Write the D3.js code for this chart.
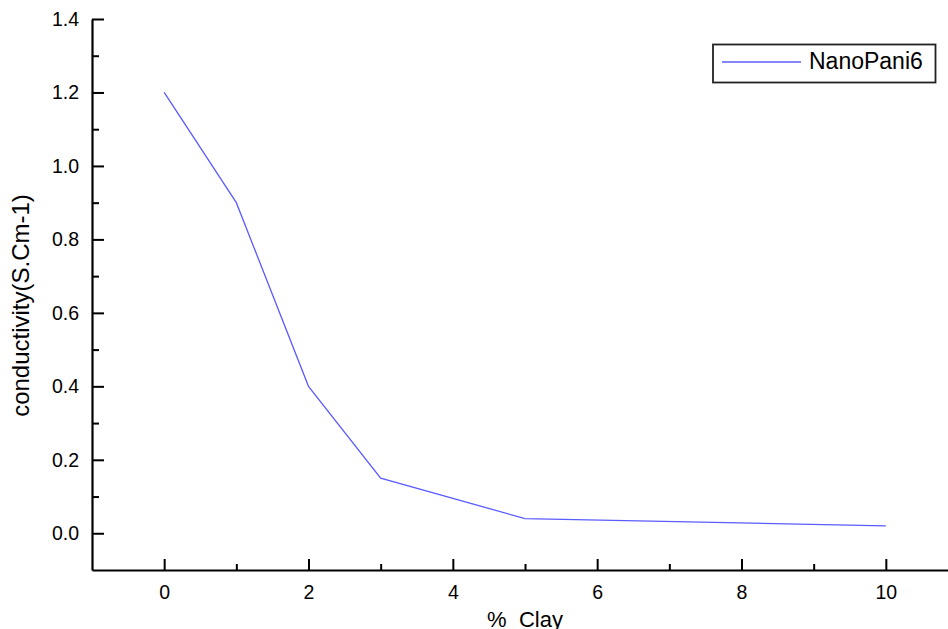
<!DOCTYPE html>
<html>
<head>
<meta charset="utf-8">
<script src="https://cdn.jsdelivr.net/npm/d3@7"></script>
<style>
  html, body { margin: 0; padding: 0; background: #fff; }
  svg { display: block; }
  text { font-family: "Liberation Sans", Arial, Helvetica, sans-serif; fill: #000; }
</style>
</head>
<body>
<svg id="chart" width="948" height="629"></svg>
<script>
// Conductivity of NanoPani6 versus clay loading
const clayPercent = [0, 1, 2, 3, 5, 10];
const conductivity = [1.2, 0.9, 0.4, 0.15, 0.04, 0.02];
const seriesName = "NanoPani6";

const xMajorTicks = [0, 2, 4, 6, 8, 10];
const xMinorTicks = [1, 3, 5, 7, 9];
const yMajorTicks = [0.0, 0.2, 0.4, 0.6, 0.8, 1.0, 1.2, 1.4];
const yMinorTicks = [0.1, 0.3, 0.5, 0.7, 0.9, 1.1, 1.3];

const svg = d3.select("#chart");

const plotLeft = 92, plotRight = 958, plotTop = 19, plotBottom = 570;

const x = d3.scaleLinear().domain([-1, 11]).range([plotLeft, plotRight]);
const y = d3.scaleLinear().domain([-0.1, 1.4]).range([plotBottom, plotTop]);

const lineColor = "#5b5bff";

// minor ticks (inward, no labels)
svg.append("g")
  .attr("transform", `translate(0,${plotBottom})`)
  .call(d3.axisBottom(x).tickValues(xMinorTicks).tickSize(-6).tickSizeOuter(0).tickFormat(""))
  .call(g => g.select(".domain").remove())
  .call(g => g.selectAll(".tick line").attr("stroke", "#000").attr("stroke-width", 2));

svg.append("g")
  .attr("transform", `translate(${plotLeft},0)`)
  .call(d3.axisLeft(y).tickValues(yMinorTicks).tickSize(-7).tickSizeOuter(0).tickFormat(""))
  .call(g => g.select(".domain").remove())
  .call(g => g.selectAll(".tick line").attr("stroke", "#000").attr("stroke-width", 2));

// major axes
const xAxis = svg.append("g")
  .attr("transform", `translate(0,${plotBottom})`)
  .call(d3.axisBottom(x).tickValues(xMajorTicks).tickSize(-11).tickSizeOuter(0).tickPadding(15).tickFormat(d3.format("d")));

const yAxis = svg.append("g")
  .attr("transform", `translate(${plotLeft},0)`)
  .call(d3.axisLeft(y).tickValues(yMajorTicks).tickSize(-12).tickSizeOuter(0).tickPadding(13).tickFormat(d3.format(".1f")));

[xAxis, yAxis].forEach(g => {
  g.select(".domain").attr("stroke", "#000").attr("stroke-width", 2.2);
  g.selectAll(".tick line").attr("stroke", "#000").attr("stroke-width", 2);
  g.selectAll(".tick text")
    .attr("font-family", "\"Liberation Sans\", Arial, sans-serif")
    .attr("font-size", "19.5px")
    .attr("fill", "#000");
});

// axis titles
svg.append("text")
  .attr("x", (plotLeft + plotRight) / 2)
  .attr("y", 627)
  .attr("text-anchor", "middle")
  .attr("font-size", "22px")
  .style("white-space", "pre")
  .text("%  Clay");

svg.append("text")
  .attr("transform", `translate(29,305.5) rotate(-90)`)
  .attr("text-anchor", "middle")
  .attr("font-size", "24px")
  .text("conductivity(S.Cm-1)");

// data line
const line = d3.line()
  .x((d, i) => x(clayPercent[i]))
  .y(d => y(d));

svg.append("path")
  .datum(conductivity)
  .attr("fill", "none")
  .attr("stroke", lineColor)
  .attr("stroke-width", 1.3)
  .attr("d", line);

// legend
const legend = svg.append("g");
legend.append("rect")
  .attr("x", 713).attr("y", 44.5)
  .attr("width", 222.5).attr("height", 38)
  .attr("fill", "#fff")
  .attr("stroke", "#222")
  .attr("stroke-width", 1.8);
legend.append("line")
  .attr("x1", 722).attr("x2", 801)
  .attr("y1", 62).attr("y2", 62)
  .attr("stroke", lineColor)
  .attr("stroke-width", 1.3);
legend.append("text")
  .attr("x", 809)
  .attr("y", 68.5)
  .attr("font-size", "23px")
  .text(seriesName);
</script>
</body>
</html>
